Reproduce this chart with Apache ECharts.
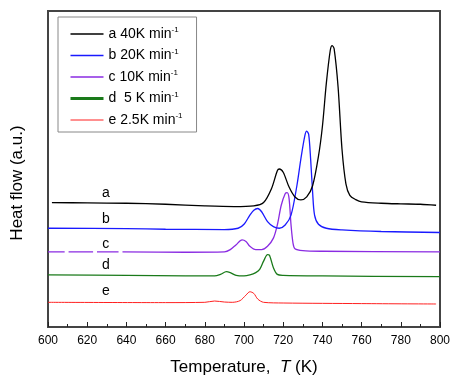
<!DOCTYPE html>
<html>
<head>
<meta charset="utf-8">
<script src="https://cdn.jsdelivr.net/npm/echarts@6/dist/echarts.min.js"></script>
<style>html,body{margin:0;padding:0;background:#fff}#c{width:463px;height:381px}</style>
</head>
<body>
<div id="c"></div>
<script>
const xTicks = [600,620,640,660,680,700,720,740,760,780,800];
const seriesNames = ['a 40K min','b 20K min','c 10K min','d  5 K min','e 2.5K min'];
const curveLabels = ['a','b','c','d','e'];
const colors = ['#000000','#1a1aff','#8a2be2','#1a7a1a','#ff2020'];
const widths = [1.3,1.3,1.3,1.3,1.0];
const legendWidths = [1.3,1.3,1.3,3,1];

const curveA = [[602,126],[620,125.7],[640,125.3],[660,124.3],[680,122.7],[695,122],[705,122.7],[710,126],[714,140],[717,158.3],[718,160],[720,156.7],[723,141.7],[726,131.7],[729,128.7],[732,131.7],[735,143],[738,173],[740,203],[742,246.7],[744,280],[745,285],[746,281.7],[748,243],[750,180],[752,145],[754,133.3],[757,129],[760,126.7],[770,125.3],[780,124.7],[790,124.3],[798,123.3]];
const curveB = [[600,100],[640,99.7],[660,99],[690,98.7],[697,100],[700,104],[703,113.3],[705,118.3],[707,120],[709,116.7],[712,106.7],[715,101.7],[718,100],[721,103.3],[724,113.3],[727,143.3],[729,170],[731,193.3],[732,198.3],[733,195],[734,170],[735,136.7],[736,113.3],[738,104],[742,100],[750,98.3],[770,96.7],[800,95.7]];
const curveC = [[600,76],[608.5,76],[609,null],[610.5,76],[623,76],[623.5,null],[625,76],[636,76],[636.5,null],[638,76],[670,75.7],[690,76],[693,78.3],[696,83.3],[699,88.3],[701,86.7],[703,81.7],[706,78.3],[709,78.3],[712,81.7],[715,90],[717,103.3],[719,123.3],[721,135],[722,136],[723,130],[724,103.3],[725,85],[726,79.3],[730,77.3],[740,76.7],[800,76]];
const curveD = [[600,52.7],[640,52.3],[670,51.7],[685,51.7],[688,53.3],[691,56],[693,55],[696,52.3],[700,51.7],[703,52.7],[706,55],[708,58.3],[710,66.7],[712,73.3],[713,72.7],[715,60],[717,53.3],[720,52.3],[740,51.7],[800,51]];
const curveE = [[600,25],[660,24.7],[680,25],[685,26.3],[690,25.3],[694,25],[698,26.7],[701,32.3],[703,35.7],[705,34],[707,28.3],[710,25],[720,24.3],[760,23.7],[798,23.3]];
const curves = [curveA,curveB,curveC,curveD,curveE];
const labelPos = [[629.5,136],[629.5,109],[629.5,84.3],[629.5,62.7],[629.5,36]];

const font = 'Arial, "Liberation Sans", sans-serif';
const chart = echarts.init(document.getElementById('c'), null, {renderer:'canvas'});
const series = curves.map((d,i)=>({
  name: seriesNames[i],
  type:'line',
  data:d,
  symbol:'none',
  smooth:0.3,
  connectNulls:false,
  lineStyle:{color:colors[i],width:widths[i]},
  itemStyle:{color:colors[i]},
  animation:false,
  z: 5-i,
  markPoint:{
    symbol:'circle',symbolSize:0,
    label:{show:true,formatter:curveLabels[i],color:'#000',fontSize:14,fontFamily:font,position:'inside'},
    data:[{coord:labelPos[i]}]
  }
}));

chart.setOption({
  backgroundColor:'#fff',
  animation:false,
  grid:{left:48,right:23,top:11,bottom:51,show:true,borderColor:'#444',borderWidth:2,backgroundColor:'transparent'},
  legend:{
    left:58,top:17,orient:'vertical',
    width:138,
    padding:[9,14,5,11],
    itemGap:6.5,
    itemWidth:33,itemHeight:14,
    borderColor:'#888',borderWidth:1,
    backgroundColor:'#fff',
    data:seriesNames.map((n,i)=>({name:n,itemStyle:{opacity:0},lineStyle:{width:legendWidths[i],color:colors[i]}})),
    formatter:(n)=>'{t|'+n+'}{s|-1}',
    textStyle:{
      color:'#000',fontFamily:font,fontSize:14,
      rich:{t:{fontSize:14,lineHeight:14,fontFamily:font,color:'#000'},s:{fontSize:8,lineHeight:14,height:6,fontFamily:font,color:'#000',verticalAlign:'top'}}
    }
  },
  xAxis:{
    type:'value',min:600,max:800,interval:20,
    name:'Temperature,  {i|T} (K)',nameLocation:'middle',nameGap:32,
    nameTextStyle:{fontSize:17,fontFamily:font,color:'#000',rich:{i:{fontStyle:'italic',fontSize:17,fontFamily:font,color:'#000'}}},
    axisLine:{lineStyle:{color:'#444',width:2}},
    axisTick:{inside:true,length:5,lineStyle:{color:'#222',width:1}},
    minorTick:{show:true,splitNumber:2,length:3,lineStyle:{color:'#222',width:1}},
    axisLabel:{fontSize:12,fontFamily:font,color:'#000',margin:8},
    splitLine:{show:false}
  },
  yAxis:{
    type:'value',min:0,max:320,
    name:'Heat flow (a.u.)',nameLocation:'middle',nameGap:22,
    nameTextStyle:{fontSize:17,fontFamily:font,color:'#000',padding:[0,28,0,0]},
    axisLine:{show:true,lineStyle:{color:'#444',width:2}},
    axisTick:{show:false},axisLabel:{show:false},splitLine:{show:false}
  },
  series:series
});
</script>
</body>
</html>
